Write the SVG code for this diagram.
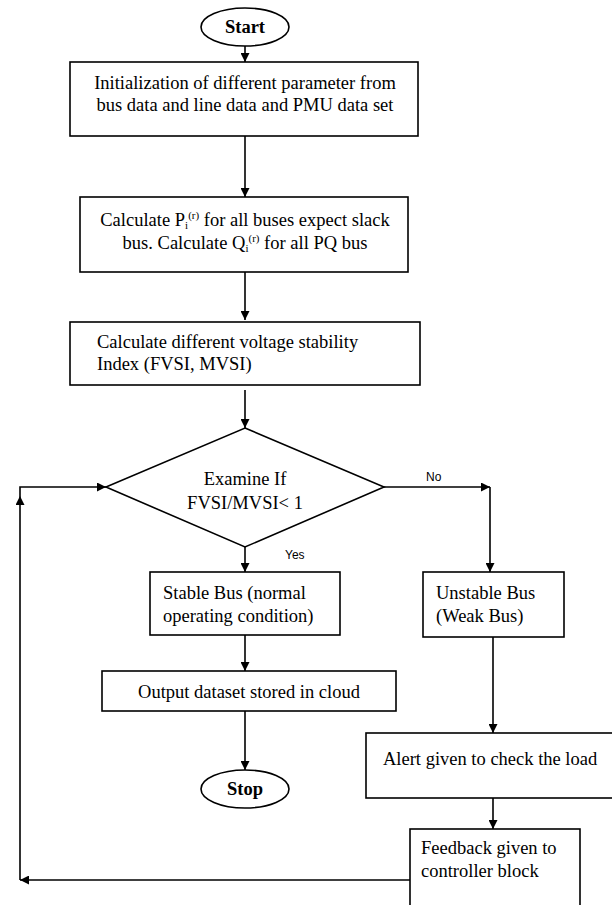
<svg xmlns="http://www.w3.org/2000/svg" width="612" height="905" viewBox="0 0 612 905">
<style>
.box{fill:#fff;stroke:#000;stroke-width:1.6}
.ln{fill:none;stroke:#000;stroke-width:1.6}
text{font-family:"Liberation Serif","Times New Roman",serif;font-size:18.5px;fill:#000}
.b{font-weight:bold}
.c{text-anchor:middle}
.s{font-size:11px}
.lbl{font-family:"Liberation Sans",Arial,sans-serif;font-size:12px}
</style>
<defs>
<marker id="ah" viewBox="0 0 10 10" refX="10" refY="5" markerWidth="10" markerHeight="9" orient="auto" markerUnits="userSpaceOnUse"><path d="M0,0 L10,5 L0,10 z" fill="#000"/></marker>
</defs>
<rect width="612" height="905" fill="#fff"/>
<g id="connectors">
<line class="ln" x1="245" y1="46" x2="245" y2="62" marker-end="url(#ah)"/>
<line class="ln" x1="245" y1="136" x2="245" y2="197" marker-end="url(#ah)"/>
<line class="ln" x1="245" y1="272" x2="245" y2="320" marker-end="url(#ah)"/>
<line class="ln" x1="245" y1="390" x2="245" y2="428" marker-end="url(#ah)"/>
<polyline class="ln" points="384,487 490,487" marker-end="url(#ah)"/>
<polyline class="ln" points="490,487 490,572" marker-end="url(#ah)"/>
<line class="ln" x1="245" y1="547" x2="245" y2="572" marker-end="url(#ah)"/>
<line class="ln" x1="245" y1="635" x2="245" y2="671" marker-end="url(#ah)"/>
<line class="ln" x1="245" y1="711" x2="245" y2="770" marker-end="url(#ah)"/>
<line class="ln" x1="493" y1="637" x2="493" y2="733" marker-end="url(#ah)"/>
<line class="ln" x1="493" y1="798" x2="493" y2="829" marker-end="url(#ah)"/>
<polyline class="ln" points="410,880 20,880" marker-end="url(#ah)"/>
<polyline class="ln" points="20,880 20,496" marker-end="url(#ah)"/>
<polyline class="ln" points="20,496 20,487 106,487" marker-end="url(#ah)"/>
<text class="lbl" x="426" y="481">No</text>
<text class="lbl" x="285" y="559">Yes</text>
</g>
<g id="start">
<ellipse class="box" cx="245" cy="27" rx="44" ry="19"/>
<text class="c b" x="245" y="33">Start</text>
</g>
<g id="init">
<rect class="box" x="70" y="62" width="348" height="74"/>
<text class="c" x="245" y="89">Initialization of different parameter from</text>
<text class="c" x="245" y="111">bus data and line data and PMU data set</text>
</g>
<g id="calc-pq">
<rect class="box" x="80" y="197" width="328" height="75"/>
<text class="c" x="245" y="226">Calculate P<tspan class="s" dy="3">i</tspan><tspan class="s" dy="-10">(r)</tspan><tspan dy="7"> for all buses expect slack</tspan></text>
<text class="c" x="245" y="249">bus. Calculate Q<tspan class="s" dy="3">i</tspan><tspan class="s" dy="-10">(r)</tspan><tspan dy="7"> for all PQ bus</tspan></text>
</g>
<g id="calc-index">
<rect class="box" x="70" y="322" width="350" height="63"/>
<text x="97" y="348">Calculate different voltage stability</text>
<text x="97" y="370">Index (FVSI, MVSI)</text>
</g>
<g id="decision">
<polygon class="box" points="245,428 384,487 245,547 106,487"/>
<text class="c" x="245" y="485">Examine If</text>
<text class="c" x="245" y="509">FVSI/MVSI&lt; 1</text>
</g>
<g id="stable">
<rect class="box" x="150" y="572" width="190" height="63"/>
<text x="163" y="599">Stable Bus (normal</text>
<text x="163" y="622">operating condition)</text>
</g>
<g id="output">
<rect class="box" x="102" y="671" width="294" height="40"/>
<text class="c" x="249" y="698">Output dataset stored in cloud</text>
</g>
<g id="stop">
<ellipse class="box" cx="245" cy="789" rx="44" ry="19"/>
<text class="c b" x="245" y="795">Stop</text>
</g>
<g id="unstable">
<rect class="box" x="423" y="572" width="141" height="65"/>
<text x="436" y="599">Unstable Bus</text>
<text x="436" y="622">(Weak Bus)</text>
</g>
<g id="alert">
<rect class="box" x="366" y="733" width="250" height="65"/>
<text x="383" y="765">Alert given to check the load</text>
</g>
<g id="feedback">
<rect class="box" x="410" y="829" width="170" height="80"/>
<text x="421" y="854">Feedback given to</text>
<text x="421" y="877">controller block</text>
</g>
</svg>
